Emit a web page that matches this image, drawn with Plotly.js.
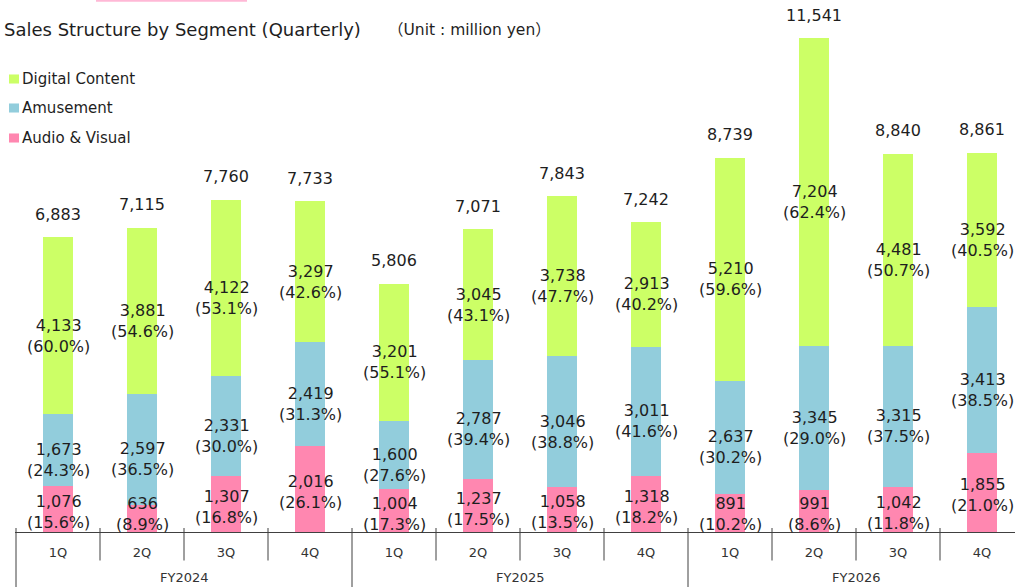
<!DOCTYPE html>
<html>
<head>
<meta charset="utf-8">
<script src="https://cdn.plot.ly/plotly-3.0.1.min.js"></script>
<style>
  html, body { margin: 0; padding: 0; background: #ffffff; }
  #chart { width: 1015px; height: 587px; }
</style>
</head>
<body>
<div id="chart"></div>
<script>
// ---- data ----
const quarters = ['1Q', '2Q', '3Q', '4Q', '1Q', '2Q', '3Q', '4Q', '1Q', '2Q', '3Q', '4Q'];
const fiscalYears = ['FY2024', 'FY2025', 'FY2026'];
const quartersPerYear = 4;

const seriesNames = ['Audio & Visual', 'Amusement', 'Digital Content'];
const seriesColors = ['#ff87b0', '#92cddc', '#ccff66'];

const audioVisual    = [1076, 636, 1307, 2016, 1004, 1237, 1058, 1318, 891, 991, 1042, 1855];
const amusement      = [1673, 2597, 2331, 2419, 1600, 2787, 3046, 3011, 2637, 3345, 3315, 3413];
const digitalContent = [4133, 3881, 4122, 3297, 3201, 3045, 3738, 2913, 5210, 7204, 4481, 3592];

const audioVisualPct    = [15.6, 8.9, 16.8, 26.1, 17.3, 17.5, 13.5, 18.2, 10.2, 8.6, 11.8, 21.0];
const amusementPct      = [24.3, 36.5, 30.0, 31.3, 27.6, 39.4, 38.8, 41.6, 30.2, 29.0, 37.5, 38.5];
const digitalContentPct = [60.0, 54.6, 53.1, 42.6, 55.1, 43.1, 47.7, 40.2, 59.6, 62.4, 50.7, 40.5];

const totals = [6883, 7115, 7760, 7733, 5806, 7071, 7843, 7242, 8739, 11541, 8840, 8861];

const titleText = 'Sales Structure by Segment (Quarterly)';
const unitText = '（Unit : million yen）';

// ---- build chart ----
const FONT = 'DejaVu Sans, Verdana, "Noto Sans CJK JP", sans-serif';
const TXT = '#1e1e1e';
const AX = '#404040';
const idx = quarters.map((_, i) => i);
const fmt = v => v.toLocaleString('en-US');

const seriesValues = [audioVisual, amusement, digitalContent];
const seriesPct = [audioVisualPct, amusementPct, digitalContentPct];

const H = 587, MB = 55, MT = 0;
const plotH = H - MB - MT;
const yMax = 12429;
const pxPerUnit = plotH / yMax;

const traces = seriesValues.map((vals, s) => ({
  type: 'bar',
  name: seriesNames[s],
  x: idx,
  y: vals,
  marker: { color: seriesColors[s], line: { width: 0 } },
  hoverinfo: 'skip',
  showlegend: false
}));

const annotations = [];
// inside labels
idx.forEach(i => {
  let base = 0;
  seriesValues.forEach((vals, s) => {
    const v = vals[i];
    const mid = base + v / 2;
    let yshift = -10;
    if (s === 0) {
      // keep bottom labels from dropping far below the axis
      const midUp = mid * pxPerUnit;             // px above axis
      const target = Math.max(midUp - 3, 18);    // label centre px above axis
      yshift = target - midUp;
    }
    annotations.push({
      x: i, y: mid, xref: 'x', yref: 'y',
      text: fmt(v) + '<br>(' + seriesPct[s][i].toFixed(1) + '%)',
      showarrow: false, xanchor: 'center', yanchor: 'middle',
      yshift: yshift,
      font: { family: FONT, size: 16, color: TXT }
    });
    base += v;
  });
  // totals
  annotations.push({
    x: i, y: totals[i], xref: 'x', yref: 'y',
    text: fmt(totals[i]), showarrow: false,
    xanchor: 'center', yanchor: 'middle', yshift: 23,
    font: { family: FONT, size: 16, color: TXT }
  });
});

// fiscal year labels
fiscalYears.forEach((fy, k) => {
  annotations.push({
    x: k * quartersPerYear + (quartersPerYear - 1) / 2, xref: 'x',
    y: (plotH - 577) / plotH, yref: 'paper',
    text: fy, showarrow: false, xanchor: 'center', yanchor: 'middle',
    font: { family: FONT, size: 13, color: '#333333' }
  });
});

// unit note
annotations.push({
  x: 0.371, xref: 'paper', y: (plotH - 30) / plotH, yref: 'paper',
  text: unitText, showarrow: false, xanchor: 'left', yanchor: 'middle',
  font: { family: FONT, size: 15.5, color: TXT }
});

// custom legend (top to bottom: Digital Content, Amusement, Audio & Visual)
const shapes = [];
const legendRowsPx = [79, 108, 138];
[2, 1, 0].forEach((s, r) => {
  const yc = (plotH - legendRowsPx[r]) / plotH;
  shapes.push({
    type: 'rect', xref: 'paper', yref: 'paper',
    x0: -0.006, x1: 0.004, y0: yc - 0.0085, y1: yc + 0.0085,
    fillcolor: seriesColors[s], line: { width: 0 }
  });
  annotations.push({
    x: 0.005, xref: 'paper', y: yc, yref: 'paper',
    text: seriesNames[s], showarrow: false, xanchor: 'left', yanchor: 'middle',
    font: { family: FONT, size: 15, color: TXT }
  });
});

// category dividers below axis
for (let b = 0; b < quarters.length; b++) {
  const isYear = b % quartersPerYear === 0;
  shapes.push({
    type: 'line', xref: 'x', yref: 'paper',
    x0: b - 0.5, x1: b - 0.5,
    y0: 0.0075, y1: isYear ? -0.11 : -0.0536,
    line: { color: AX, width: 1 }
  });
}

// small pink decoration at the very top (cropped slide element)
shapes.push({
  type: 'rect', xref: 'paper', yref: 'paper',
  x0: 0.081, x1: 0.232, y0: 0.9965, y1: 1.02,
  fillcolor: '#ffb8d6', line: { width: 0 }
});

const plotWidth = 1000;      // px
const catPx = 84;            // px per category
const xStart = -0.5 - 1 / catPx;
const xEnd = xStart + plotWidth / catPx;

const layout = {
  width: 1015, height: H,
  margin: { l: 15, r: 0, t: MT, b: MB, pad: 0 },
  paper_bgcolor: '#ffffff', plot_bgcolor: '#ffffff',
  barmode: 'stack',
  bargap: 0.643,
  showlegend: false,
  title: {
    text: titleText,
    x: 4 / 1015, xref: 'container', xanchor: 'left',
    y: 1 - 30 / 587, yref: 'container', yanchor: 'middle',
    font: { family: FONT, size: 18, color: TXT }
  },
  xaxis: {
    range: [xStart, xEnd],
    tickmode: 'array', tickvals: idx, ticktext: quarters,
    ticks: '', showline: true, linecolor: AX, linewidth: 1,
    showgrid: false, zeroline: false,
    tickfont: { family: FONT, size: 13, color: '#333333' },
    ticklabelstandoff: 8,
    fixedrange: true
  },
  yaxis: {
    range: [0, yMax],
    showticklabels: false, showgrid: false, zeroline: false, showline: false,
    ticks: '', fixedrange: true
  },
  annotations: annotations,
  shapes: shapes,
  font: { family: FONT, color: TXT }
};

Plotly.newPlot('chart', traces, layout, { displayModeBar: false, staticPlot: true });
</script>
</body>
</html>
